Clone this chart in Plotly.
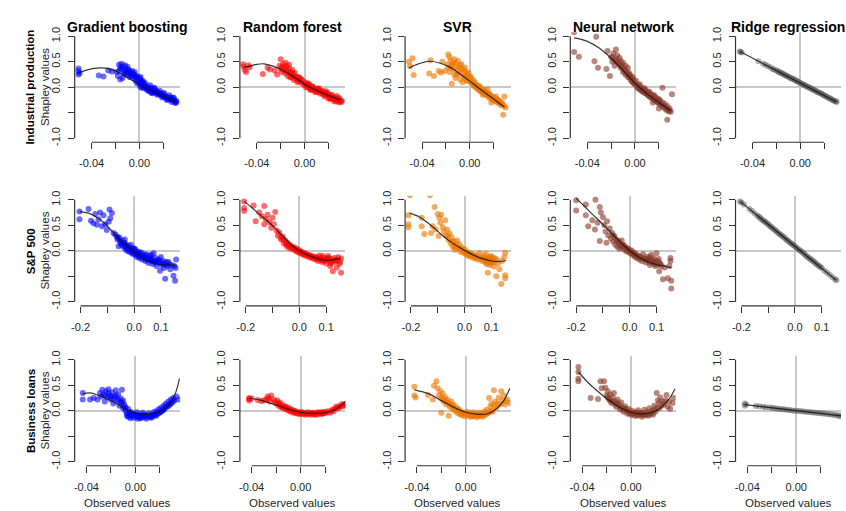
import plotly.graph_objects as go

W, H = 846, 511

models = ["Gradient boosting", "Random forest", "SVR", "Neural network", "Ridge regression"]
features = ["Industrial production", "S&P 500", "Business loans"]
point_colors = ["rgba(0,0,255,0.58)", "rgba(255,0,0,0.58)", "rgba(236,118,0,0.62)",
                "rgba(135,55,40,0.6)", "rgba(80,80,80,0.45)"]

x_ranges = [(-0.0542, 0.0342), (-0.222, 0.172), (-0.0496, 0.0366)]
x_tickvals = [[-0.04, -0.02, 0.0, 0.02], [-0.2, -0.1, 0.0, 0.1], [-0.04, -0.02, 0.0, 0.02]]
x_ticktext = [["-0.04", "", "0.00", ""], ["-0.2", "", "0.0", "0.1"], ["-0.04", "", "0.00", ""]]
y_tickvals = [-1.0, -0.5, 0.0, 0.5, 1.0]
y_ticktext = ["-1.0", "", "0.0", "0.5", "1.0"]

# ---------------- Industrial production: (observed value, Shapley value) ----------------
gb_ip = [(-0.051, 0.37), (-0.051, 0.32), (-0.050, 0.28), (-0.051, 0.25), (-0.034, 0.23), (-0.030, 0.21),
         (-0.026, 0.33), (-0.023, 0.31), (-0.019, 0.30), (-0.018, 0.22), (-0.017, 0.44), (-0.016, 0.15),
         (-0.015, 0.46), (-0.015, 0.36), (-0.014, 0.18), (-0.013, 0.34), (-0.012, 0.43), (-0.012, 0.28),
         (-0.011, 0.30), (-0.010, 0.40), (-0.010, 0.24), (-0.009, 0.35), (-0.008, 0.20), (-0.008, 0.31),
         (-0.007, 0.28), (-0.006, 0.32), (-0.006, 0.22), (-0.005, 0.26), (-0.005, 0.18), (-0.004, 0.24),
         (-0.003, 0.20), (-0.003, 0.13), (-0.002, 0.17), (-0.001, 0.12), (0.000, 0.08), (0.001, 0.15),
         (0.001, 0.03), (0.002, 0.06), (0.003, 0.10), (0.004, 0.00), (0.004, 0.05), (0.005, 0.02),
         (0.006, -0.02), (0.007, 0.01), (0.008, -0.04), (0.008, -0.08), (0.009, -0.03), (0.010, -0.07),
         (0.011, -0.06), (0.012, -0.10), (0.012, -0.05), (0.013, -0.09), (0.014, -0.11), (0.015, -0.10),
         (0.016, -0.14), (0.017, -0.12), (0.018, -0.16), (0.019, -0.15), (0.020, -0.17), (0.021, -0.19),
         (0.022, -0.18), (0.023, -0.21), (0.024, -0.20), (0.025, -0.22), (0.026, -0.24), (0.027, -0.23),
         (0.028, -0.26), (0.029, -0.25), (0.030, -0.28), (0.031, -0.27), (0.002, 0.11), (0.006, -0.04),
         (0.010, -0.11), (0.014, -0.07), (0.018, -0.13), (0.022, -0.20), (0.026, -0.20), (0.003, 0.12),
         (0.009, -0.01), (0.016, -0.12), (0.024, -0.24), (-0.002, 0.22), (0.001, 0.20),
         (0.001, 0.00), (0.003, -0.02), (0.005, 0.08), (0.007, -0.06), (0.009, 0.04), (0.011, -0.12),
         (0.013, -0.02), (0.015, -0.15), (0.017, -0.07), (0.019, -0.20), (0.021, -0.13), (0.023, -0.25),
         (0.025, -0.16), (0.027, -0.29), (0.029, -0.21), (0.030, -0.31), (0.028, -0.20), (0.031, -0.30),
         (0.020, -0.11), (0.012, -0.01), (-0.016, 0.38), (-0.014, 0.41), (-0.013, 0.26), (-0.011, 0.36),
         (-0.009, 0.29), (-0.007, 0.24), (-0.004, 0.30), (-0.002, 0.08), (0.000, 0.18), (-0.017, 0.32)]
rf_ip = [(-0.0515, 0.45), (-0.051, 0.40), (-0.050, 0.34), (-0.049, 0.30), (-0.047, 0.43), (-0.046, 0.39),
         (-0.035, 0.26), (-0.031, 0.38), (-0.029, 0.35), (-0.025, 0.33), (-0.023, 0.25), (-0.020, 0.55),
         (-0.021, 0.42), (-0.020, 0.36), (-0.019, 0.30), (-0.018, 0.45), (-0.017, 0.38), (-0.016, 0.27),
         (-0.015, 0.41), (-0.015, 0.33), (-0.014, 0.22), (-0.013, 0.37), (-0.012, 0.30), (-0.012, 0.19),
         (-0.011, 0.26), (-0.010, 0.34), (-0.009, 0.22), (-0.009, 0.14), (-0.008, 0.28), (-0.007, 0.20),
         (-0.006, 0.16), (-0.006, 0.10), (-0.005, 0.12), (-0.004, 0.18), (-0.003, 0.09), (-0.002, 0.14),
         (-0.001, 0.06), (0.000, 0.10), (0.001, 0.04), (0.002, 0.07), (0.003, 0.01), (0.004, 0.05),
         (0.005, -0.01), (0.006, 0.02), (0.007, -0.04), (0.008, -0.02), (0.009, -0.06), (0.010, -0.04),
         (0.011, -0.08), (0.012, -0.06), (0.013, -0.10), (0.014, -0.08), (0.015, -0.12), (0.016, -0.10),
         (0.017, -0.14), (0.018, -0.12), (0.019, -0.16), (0.020, -0.14), (0.021, -0.18), (0.022, -0.16),
         (0.023, -0.19), (0.024, -0.21), (0.025, -0.20), (0.026, -0.23), (0.027, -0.22), (0.028, -0.25),
         (0.029, -0.24), (0.030, -0.27), (0.031, -0.26), (0.020, -0.22), (0.025, -0.28), (0.029, -0.30),
         (0.018, -0.08), (0.027, -0.17), (0.004, -0.03), (0.012, -0.02),
         (0.001, 0.00), (0.003, 0.08), (0.005, -0.05), (0.007, 0.01), (0.009, -0.10), (0.011, -0.03),
         (0.013, -0.13), (0.015, -0.07), (0.017, -0.18), (0.019, -0.11), (0.021, -0.22), (0.023, -0.15),
         (0.025, -0.25), (0.027, -0.28), (0.029, -0.21), (0.031, -0.29), (0.022, -0.23), (0.016, -0.15),
         (0.010, -0.09), (0.006, -0.06), (-0.019, 0.40), (-0.017, 0.33), (-0.014, 0.30), (-0.011, 0.20),
         (-0.008, 0.17), (-0.005, 0.20), (-0.003, 0.15), (-0.013, 0.44), (-0.016, 0.48), (-0.010, 0.28)]
svr_ip = [(-0.051, 0.50), (-0.050, 0.41), (-0.048, 0.57), (-0.047, 0.24), (-0.033, 0.53), (-0.034, 0.27),
          (-0.030, 0.22), (-0.026, 0.32), (-0.023, 0.50), (-0.021, 0.32), (-0.024, 0.29), (-0.018, 0.64),
          (-0.017, 0.59), (-0.019, 0.45), (-0.018, 0.38), (-0.017, 0.30), (-0.016, 0.52), (-0.015, 0.07),
          (-0.015, 0.44), (-0.014, 0.36), (-0.013, 0.55), (-0.013, 0.25), (-0.012, 0.47), (-0.012, 0.18),
          (-0.011, 0.40), (-0.010, 0.32), (-0.010, 0.52), (-0.009, 0.26), (-0.008, 0.43), (-0.008, 0.15),
          (-0.007, 0.36), (-0.006, 0.28), (-0.006, 0.10), (-0.005, 0.34), (-0.004, 0.22), (-0.003, 0.30),
          (-0.003, 0.14), (-0.002, 0.24), (-0.001, 0.18), (0.000, 0.12), (0.001, 0.20), (0.002, 0.08),
          (0.003, 0.14), (0.004, 0.02), (0.005, 0.06), (0.006, -0.02), (0.007, 0.03), (0.008, -0.06),
          (0.009, -0.01), (0.010, -0.10), (0.011, -0.05), (0.012, -0.13), (0.013, -0.09), (0.014, -0.16),
          (0.015, -0.12), (0.016, -0.20), (0.017, -0.15), (0.018, -0.23), (0.019, -0.18), (0.020, -0.26),
          (0.021, -0.22), (0.022, -0.28), (0.023, -0.24), (0.024, -0.31), (0.025, -0.27), (0.026, -0.35),
          (0.027, -0.30), (0.028, -0.54), (0.029, -0.18), (0.029, -0.37), (0.030, -0.40), (0.018, -0.30),
          (0.022, -0.18), (0.011, -0.15), (0.015, -0.04),
          (0.001, 0.10), (0.003, 0.04), (0.005, 0.00), (0.007, -0.04), (0.009, -0.08), (0.011, -0.09),
          (0.013, -0.14), (0.015, -0.16), (0.017, -0.19), (0.019, -0.22), (0.021, -0.25), (0.023, -0.29),
          (0.025, -0.31), (0.027, -0.34), (0.004, 0.10), (0.008, 0.02), (0.012, -0.06), (0.016, -0.13),
          (0.020, -0.20), (0.024, -0.26), (-0.016, 0.40), (-0.014, 0.48), (-0.011, 0.25), (-0.009, 0.38),
          (-0.007, 0.45), (-0.005, 0.20), (-0.004, 0.38), (-0.002, 0.12), (-0.001, 0.28), (0.000, 0.20)]
nn_ip = [(-0.051, 1.08), (-0.0325, 0.99), (-0.051, 0.69), (-0.047, 0.60), (-0.034, 0.51), (-0.031, 0.38),
         (-0.024, 0.36), (-0.021, 0.22), (-0.023, 0.71), (-0.016, 0.74), (-0.020, 0.60), (-0.019, 0.50),
         (-0.018, 0.66), (-0.017, 0.42), (-0.016, 0.55), (-0.015, 0.63), (-0.014, 0.47), (-0.013, 0.58),
         (-0.012, 0.38), (-0.012, 0.52), (-0.011, 0.44), (-0.010, 0.30), (-0.010, 0.48), (-0.009, 0.36),
         (-0.008, 0.42), (-0.008, 0.25), (-0.007, 0.32), (-0.006, 0.38), (-0.006, 0.20), (-0.005, 0.28),
         (-0.004, 0.16), (-0.004, 0.24), (-0.003, 0.12), (-0.002, 0.20), (-0.001, 0.08), (-0.001, 0.14),
         (0.000, 0.06), (0.001, 0.12), (0.002, -0.01), (0.003, 0.04), (0.004, -0.04), (0.005, 0.00),
         (0.006, -0.08), (0.007, -0.03), (0.008, -0.11), (0.009, -0.06), (0.010, -0.14), (0.011, -0.10),
         (0.012, -0.18), (0.013, -0.13), (0.014, -0.21), (0.015, -0.16), (0.016, -0.25), (0.017, -0.19),
         (0.018, -0.28), (0.019, -0.22), (0.020, -0.32), (0.021, -0.26), (0.022, -0.36), (0.023, -0.01),
         (0.023, -0.30), (0.024, -0.40), (0.025, -0.33), (0.026, -0.44), (0.027, -0.64), (0.027, -0.37),
         (0.028, -0.47), (0.029, -0.42), (0.030, -0.48), (0.031, -0.14), (0.015, -0.30), (0.020, -0.42),
         (0.001, 0.04), (0.003, -0.02), (0.005, -0.06), (0.007, -0.09), (0.009, -0.12), (0.011, -0.16),
         (0.013, -0.19), (0.015, -0.22), (0.017, -0.26), (0.019, -0.29), (0.021, -0.32), (0.023, -0.36),
         (0.025, -0.39), (0.027, -0.43), (0.029, -0.46), (0.004, 0.06), (0.008, -0.02), (0.012, -0.09),
         (0.016, -0.16), (0.020, -0.24), (-0.019, 0.58), (-0.017, 0.53), (-0.015, 0.50), (-0.013, 0.44),
         (-0.011, 0.40), (-0.009, 0.33), (-0.007, 0.27), (-0.005, 0.22), (-0.003, 0.18), (-0.002, 0.10)]
ridge_ip = [(-0.0505, 0.70), (-0.050, 0.69), (-0.049, 0.68), (-0.035, 0.51), (-0.031, 0.46), (-0.029, 0.44),
            (-0.027, 0.41), (-0.025, 0.39), (-0.023, 0.36), (-0.022, 0.35), (-0.020, 0.33), (-0.019, 0.32),
            (-0.018, 0.30), (-0.017, 0.29), (-0.016, 0.28), (-0.015, 0.27), (-0.014, 0.26), (-0.013, 0.24),
            (-0.012, 0.23), (-0.011, 0.22), (-0.010, 0.21), (-0.009, 0.19), (-0.008, 0.18), (-0.007, 0.17),
            (-0.006, 0.16), (-0.005, 0.15), (-0.004, 0.13), (-0.003, 0.12), (-0.002, 0.11), (-0.001, 0.10),
            (0.000, 0.085), (0.001, 0.07), (0.002, 0.06), (0.003, 0.05), (0.004, 0.04), (0.005, 0.02),
            (0.006, 0.01), (0.007, 0.00), (0.008, -0.01), (0.009, -0.02), (0.010, -0.04), (0.011, -0.05),
            (0.012, -0.06), (0.013, -0.07), (0.014, -0.09), (0.015, -0.10), (0.016, -0.11), (0.017, -0.12),
            (0.018, -0.13), (0.019, -0.15), (0.020, -0.16), (0.021, -0.17), (0.022, -0.18), (0.023, -0.20),
            (0.024, -0.21), (0.025, -0.22), (0.026, -0.23), (0.027, -0.25), (0.028, -0.26), (0.029, -0.27),
            (0.030, -0.28), (0.0305, -0.29)]

# ---------------- S&P 500 ----------------
gb_sp = [(-0.204, 0.77), (-0.204, 0.62), (-0.170, 0.82), (-0.161, 0.59), (-0.152, 0.54), (-0.127, 0.75),
         (-0.114, 0.70), (-0.092, 0.81), (-0.089, 0.64), (-0.083, 0.74), (-0.139, 0.51), (-0.120, 0.48),
         (-0.108, 0.52), (-0.102, 0.41), (-0.145, 0.72), (-0.133, 0.62), (-0.095, 0.57), (-0.077, 0.35),
         (-0.065, 0.28), (-0.052, 0.19), (-0.058, 0.09), (-0.040, 0.15), (-0.025, 0.06), (-0.070, 0.32),
         (-0.062, 0.22), (-0.055, 0.26), (-0.048, 0.12), (-0.045, 0.20), (-0.040, 0.08), (-0.036, 0.16),
         (-0.032, 0.03), (-0.030, 0.12), (-0.026, 0.00), (-0.022, 0.10), (-0.018, -0.02), (-0.015, 0.06),
         (-0.012, 0.12), (-0.010, -0.04), (-0.008, 0.03), (-0.005, -0.06), (-0.003, 0.05), (0.000, -0.02),
         (0.003, -0.08), (0.005, 0.02), (0.008, -0.05), (0.010, -0.12), (0.013, -0.03), (0.016, -0.09),
         (0.020, -0.14), (0.023, -0.06), (0.026, -0.11), (0.030, -0.17), (0.034, -0.09), (0.038, -0.14),
         (0.042, -0.20), (0.045, -0.12), (0.050, -0.17), (0.054, -0.24), (0.058, -0.10), (0.062, -0.19),
         (0.066, -0.15), (0.070, -0.26), (0.073, -0.05), (0.076, -0.21), (0.080, -0.14), (0.084, -0.30),
         (0.088, -0.18), (0.092, -0.24), (0.097, -0.39), (0.100, -0.12), (0.104, -0.28), (0.108, -0.20),
         (0.112, -0.34), (0.116, -0.55), (0.120, -0.22), (0.125, -0.30), (0.130, -0.26), (0.135, -0.36),
         (0.140, -0.28), (0.147, -0.49), (0.150, -0.30), (0.153, -0.59), (0.157, -0.17), (0.155, -0.34),
         (-0.035, 0.22), (-0.020, 0.04), (0.002, 0.04), (0.018, -0.02), (0.040, -0.07), (0.065, -0.08),
         (-0.060, 0.25), (-0.050, 0.16), (-0.042, 0.14), (-0.034, 0.10), (-0.028, 0.07), (-0.016, 0.02),
         (-0.006, 0.00), (0.004, -0.04), (0.012, -0.07), (0.022, -0.10), (0.032, -0.12), (0.044, -0.16),
         (0.056, -0.18), (0.068, -0.20), (0.078, -0.23), (0.086, -0.21), (0.094, -0.17), (0.102, -0.23),
         (0.110, -0.26), (0.118, -0.27), (0.128, -0.22), (0.060, -0.14), (0.048, -0.08), (-0.012, 0.04),
         (0.028, -0.04)]
rf_sp = [(-0.206, 0.97), (-0.206, 0.84), (-0.206, 0.78), (-0.171, 0.89), (-0.131, 0.88), (-0.163, 0.58),
         (-0.131, 0.52), (-0.119, 0.71), (-0.100, 0.65), (-0.090, 0.76), (-0.150, 0.75), (-0.140, 0.68),
         (-0.125, 0.62), (-0.112, 0.56), (-0.105, 0.45), (-0.095, 0.52), (-0.085, 0.40), (-0.080, 0.30),
         (-0.075, 0.36), (-0.068, 0.22), (-0.062, 0.28), (-0.058, 0.15), (-0.052, 0.20), (-0.048, 0.10),
         (-0.044, 0.16), (-0.040, 0.06), (-0.035, 0.12), (-0.030, 0.04), (-0.025, 0.08), (-0.020, 0.02),
         (-0.016, 0.06), (-0.012, -0.01), (-0.008, 0.03), (-0.004, -0.03), (0.000, 0.01), (0.004, -0.05),
         (0.008, -0.02), (0.012, -0.07), (0.016, -0.04), (0.020, -0.09), (0.025, -0.06), (0.030, -0.11),
         (0.035, -0.08), (0.040, -0.13), (0.045, -0.10), (0.050, -0.15), (0.055, -0.11), (0.060, -0.17),
         (0.065, -0.12), (0.070, -0.20), (0.075, -0.09), (0.080, -0.16), (0.085, -0.22), (0.090, -0.13),
         (0.095, -0.18), (0.100, -0.25), (0.105, -0.14), (0.110, -0.20), (0.115, -0.30), (0.120, -0.16),
         (0.125, -0.40), (0.130, -0.22), (0.135, -0.18), (0.140, -0.33), (0.145, -0.12), (0.150, -0.26),
         (0.156, -0.43), (0.156, -0.15), (0.068, -0.15), (0.088, -0.10), (0.100, -0.16), (0.078, -0.14),
         (-0.070, 0.26), (-0.060, 0.22), (-0.050, 0.14), (-0.042, 0.11), (-0.032, 0.08), (-0.022, 0.05),
         (-0.010, 0.02), (0.002, -0.02), (0.010, -0.04), (0.018, -0.06), (0.028, -0.08), (0.038, -0.10),
         (0.048, -0.12), (0.058, -0.13), (0.068, -0.16), (0.082, -0.18), (0.092, -0.20), (0.102, -0.17),
         (0.112, -0.15), (0.122, -0.21), (0.132, -0.14), (0.142, -0.20), (0.152, -0.22), (0.118, -0.25),
         (0.108, -0.10)]
svr_sp = [(-0.204, 1.09), (-0.129, 1.09), (-0.210, 0.70), (-0.210, 0.52), (-0.210, 0.46), (-0.160, 0.65),
          (-0.160, 0.48), (-0.150, 0.33), (-0.125, 0.35), (-0.112, 0.86), (-0.094, 0.65), (-0.100, 0.72),
          (-0.087, 0.71), (-0.119, 0.48), (-0.108, 0.42), (-0.097, 0.29), (-0.090, 0.55), (-0.082, 0.46),
          (-0.078, 0.38), (-0.072, 0.60), (-0.070, 0.30), (-0.065, 0.42), (-0.060, 0.22), (-0.056, 0.34),
          (-0.052, 0.15), (-0.048, 0.26), (-0.044, 0.08), (-0.040, 0.18), (-0.036, 0.02), (-0.032, 0.12),
          (-0.028, 0.20), (-0.024, 0.06), (-0.020, 0.13), (-0.016, -0.02), (-0.012, 0.07), (-0.008, 0.02),
          (-0.004, -0.04), (0.000, 0.03), (0.004, -0.06), (0.008, -0.02), (0.012, -0.09), (0.016, -0.04),
          (0.020, -0.11), (0.025, -0.06), (0.030, -0.13), (0.035, -0.08), (0.040, -0.15), (0.045, -0.10),
          (0.050, -0.17), (0.055, -0.05), (0.060, -0.13), (0.065, -0.20), (0.070, -0.09), (0.075, -0.16),
          (0.080, -0.24), (0.085, -0.12), (0.087, -0.43), (0.090, -0.19), (0.095, -0.28), (0.100, -0.10),
          (0.105, -0.22), (0.110, -0.31), (0.115, -0.15), (0.119, -0.50), (0.125, -0.25), (0.130, -0.36),
          (0.137, -0.65), (0.140, -0.20), (0.152, -0.48), (0.152, -0.54), (0.152, -0.04), (0.148, -0.12),
          (0.070, -0.14), (0.080, -0.06), (0.092, -0.14), (0.100, -0.20),
          (-0.062, 0.30), (-0.046, 0.18), (-0.038, 0.10), (-0.030, 0.06), (-0.018, 0.04), (-0.006, 0.01),
          (0.006, -0.03), (0.014, -0.06), (0.022, -0.08), (0.032, -0.10), (0.042, -0.12), (0.052, -0.13),
          (0.062, -0.16), (0.072, -0.18), (0.078, -0.20), (0.082, -0.16), (0.088, -0.22), (0.094, -0.17),
          (0.098, -0.24), (0.104, -0.18), (0.108, -0.14), (0.112, -0.22), (0.122, -0.18), (0.096, -0.12),
          (0.084, -0.26)]
nn_sp = [(-0.200, 0.99), (-0.200, 0.79), (-0.164, 0.91), (-0.164, 0.70), (-0.155, 0.48), (-0.128, 1.00),
         (-0.112, 0.86), (-0.108, 0.75), (-0.130, 0.42), (-0.112, 0.19), (-0.087, 0.16), (-0.140, 0.60),
         (-0.120, 0.55), (-0.100, 0.66), (-0.095, 0.50), (-0.090, 0.38), (-0.085, 0.58), (-0.080, 0.30),
         (-0.075, 0.44), (-0.070, 0.24), (-0.066, 0.35), (-0.062, 0.18), (-0.058, 0.28), (-0.054, 0.12),
         (-0.050, 0.22), (-0.046, 0.08), (-0.042, 0.16), (-0.038, 0.04), (-0.034, 0.12), (-0.030, 0.20),
         (-0.026, 0.06), (-0.022, 0.10), (-0.018, 0.01), (-0.014, 0.07), (-0.010, -0.02), (-0.006, 0.04),
         (-0.002, -0.01), (0.002, -0.05), (0.006, 0.01), (0.010, -0.08), (0.014, -0.03), (0.018, -0.11),
         (0.022, -0.06), (0.026, -0.14), (0.030, -0.09), (0.035, -0.17), (0.040, -0.11), (0.045, -0.20),
         (0.050, -0.07), (0.055, -0.15), (0.060, -0.23), (0.065, -0.12), (0.070, -0.19), (0.075, -0.28),
         (0.080, -0.08), (0.085, -0.22), (0.090, -0.15), (0.095, -0.30), (0.100, -0.05), (0.105, -0.20),
         (0.110, -0.40), (0.115, -0.26), (0.124, -0.56), (0.130, -0.33), (0.142, -0.54), (0.152, -0.14),
         (0.152, -0.20), (0.155, -0.59), (0.155, -0.74), (0.148, -0.30), (0.075, -0.12), (0.090, -0.22),
         (-0.060, 0.30), (-0.048, 0.20), (-0.040, 0.18), (-0.032, 0.09), (-0.024, 0.12), (-0.012, 0.04),
         (0.000, 0.00), (0.008, -0.04), (0.016, -0.07), (0.024, -0.09), (0.032, -0.12), (0.042, -0.14),
         (0.052, -0.16), (0.062, -0.18), (0.072, -0.22), (0.082, -0.24), (0.088, -0.18), (0.092, -0.26),
         (0.098, -0.22), (0.104, -0.28), (0.108, -0.16), (0.112, -0.24), (0.118, -0.30), (0.068, -0.16),
         (0.078, -0.18)]
ridge_sp = [(-0.205, 0.97), (-0.200, 0.95), (-0.190, 0.91), (-0.170, 0.82), (-0.160, 0.78), (-0.150, 0.73),
            (-0.140, 0.69), (-0.135, 0.67), (-0.130, 0.65), (-0.125, 0.62), (-0.120, 0.60), (-0.115, 0.58),
            (-0.110, 0.56), (-0.105, 0.54), (-0.100, 0.52), (-0.095, 0.49), (-0.090, 0.47), (-0.085, 0.45),
            (-0.080, 0.43), (-0.075, 0.41), (-0.070, 0.39), (-0.065, 0.36), (-0.060, 0.34), (-0.055, 0.32),
            (-0.050, 0.30), (-0.045, 0.28), (-0.040, 0.26), (-0.035, 0.23), (-0.030, 0.21), (-0.025, 0.19),
            (-0.020, 0.17), (-0.015, 0.15), (-0.010, 0.13), (-0.005, 0.11), (0.000, 0.09), (0.005, 0.06),
            (0.010, 0.04), (0.015, 0.02), (0.020, 0.00), (0.025, -0.02), (0.030, -0.04), (0.035, -0.06),
            (0.040, -0.09), (0.045, -0.11), (0.050, -0.13), (0.055, -0.15), (0.060, -0.17), (0.065, -0.19),
            (0.070, -0.21), (0.075, -0.23), (0.080, -0.26), (0.085, -0.28), (0.090, -0.30), (0.095, -0.32),
            (0.100, -0.34), (0.110, -0.39), (0.120, -0.43), (0.130, -0.47), (0.140, -0.52), (0.150, -0.56),
            (0.155, -0.58)]

# ---------------- Business loans ----------------
gb_bl = [(-0.043, 0.35), (-0.043, 0.22), (-0.037, 0.22), (-0.034, 0.25), (-0.031, 0.22), (-0.029, 0.35),
         (-0.027, 0.41), (-0.028, 0.28), (-0.026, 0.32), (-0.025, 0.18), (-0.024, 0.38), (-0.023, 0.26),
         (-0.022, 0.42), (-0.021, 0.30), (-0.020, 0.22), (-0.019, 0.36), (-0.018, 0.14), (-0.017, 0.28),
         (-0.016, 0.40), (-0.015, 0.20), (-0.014, 0.32), (-0.013, 0.10), (-0.012, 0.24), (-0.011, 0.41),
         (-0.011, 0.16), (-0.010, 0.05), (-0.009, 0.12), (-0.008, 0.00), (-0.007, -0.05), (-0.006, 0.04),
         (-0.005, -0.10), (-0.004, -0.02), (-0.003, -0.12), (-0.002, -0.06), (-0.001, -0.14), (0.000, -0.08),
         (0.001, -0.03), (0.002, -0.12), (0.003, -0.07), (0.004, -0.15), (0.005, -0.10), (0.006, -0.04),
         (0.007, -0.13), (0.008, -0.08), (0.009, -0.16), (0.010, -0.11), (0.011, -0.05), (0.012, -0.13),
         (0.013, -0.08), (0.014, -0.12), (0.015, -0.03), (0.016, -0.09), (0.017, -0.01), (0.018, -0.06),
         (0.019, 0.03), (0.020, -0.03), (0.021, 0.06), (0.022, 0.00), (0.023, 0.10), (0.024, 0.04),
         (0.025, 0.14), (0.026, 0.08), (0.027, 0.18), (0.028, 0.12), (0.029, 0.22), (0.030, 0.16),
         (0.031, 0.25), (0.032, 0.20), (0.0335, 0.28), (0.0357, 0.22), (-0.006, -0.12), (-0.004, -0.15),
         (0.002, -0.16), (0.006, -0.09),
         (-0.007, -0.10), (-0.005, -0.04), (-0.003, -0.07), (-0.001, -0.09), (0.001, -0.11), (0.003, -0.12),
         (0.005, -0.14), (0.007, -0.09), (0.009, -0.12), (0.011, -0.10), (0.013, -0.14), (0.015, -0.08),
         (0.017, -0.10), (0.019, -0.05), (0.021, -0.02), (0.023, 0.02), (0.025, 0.08), (0.027, 0.10),
         (0.029, 0.14), (0.031, 0.20), (-0.025, 0.30), (-0.022, 0.34), (-0.020, 0.28), (-0.018, 0.24),
         (-0.016, 0.30), (-0.014, 0.22), (-0.012, 0.16), (-0.010, 0.20), (-0.009, 0.08), (-0.008, 0.06)]
rf_bl = [(-0.042, 0.25), (-0.042, 0.20), (-0.042, 0.23), (-0.032, 0.19), (-0.028, 0.22), (-0.027, 0.28),
         (-0.024, 0.30), (-0.025, 0.18), (-0.022, 0.22), (-0.020, 0.14), (-0.019, 0.20), (-0.018, 0.10),
         (-0.017, 0.16), (-0.016, 0.07), (-0.015, 0.12), (-0.014, 0.05), (-0.013, 0.09), (-0.012, 0.03),
         (-0.011, 0.07), (-0.010, 0.00), (-0.009, 0.05), (-0.008, -0.02), (-0.007, 0.02), (-0.006, -0.04),
         (-0.005, 0.00), (-0.004, -0.05), (-0.003, -0.02), (-0.002, -0.06), (-0.001, -0.03), (0.000, -0.07),
         (0.001, -0.03), (0.002, -0.06), (0.003, -0.04), (0.004, -0.08), (0.005, -0.05), (0.006, -0.03),
         (0.007, -0.07), (0.008, -0.05), (0.009, -0.08), (0.010, -0.04), (0.011, -0.07), (0.012, -0.05),
         (0.013, -0.08), (0.014, -0.03), (0.015, -0.06), (0.016, -0.04), (0.017, -0.07), (0.018, -0.02),
         (0.019, -0.05), (0.020, -0.03), (0.022, -0.01), (0.024, -0.04), (0.026, 0.02), (0.028, 0.04),
         (0.029, 0.08), (0.030, 0.05), (0.032, 0.10), (0.034, 0.13), (0.036, 0.12), (0.037, 0.10),
         (-0.040, 0.24), (-0.035, 0.21), (-0.030, 0.20), (-0.026, 0.24), (-0.021, 0.17), (-0.018, 0.14),
         (-0.015, 0.08), (-0.012, 0.06), (-0.009, 0.02), (-0.006, 0.00), (-0.003, -0.04), (0.000, -0.04),
         (0.003, -0.06), (0.006, -0.06), (0.009, -0.05), (0.012, -0.07), (0.015, -0.04), (0.018, -0.05),
         (0.021, -0.04), (0.025, 0.00), (0.027, -0.01), (0.031, 0.06), (0.033, 0.08), (0.035, 0.10)]
svr_bl = [(-0.042, 0.47), (-0.042, 0.30), (-0.041, 0.26), (-0.031, 0.31), (-0.024, 0.58), (-0.027, 0.22),
          (-0.023, 0.44), (-0.021, 0.38), (-0.026, 0.49), (-0.020, -0.04), (-0.014, -0.10), (-0.022, 0.30),
          (-0.020, 0.25), (-0.019, 0.34), (-0.018, 0.18), (-0.017, 0.27), (-0.016, 0.12), (-0.015, 0.22),
          (-0.014, 0.15), (-0.013, 0.08), (-0.012, 0.18), (-0.011, 0.04), (-0.010, 0.12), (-0.009, 0.00),
          (-0.008, 0.07), (-0.007, -0.04), (-0.006, 0.03), (-0.005, -0.07), (-0.004, -0.01), (-0.003, -0.09),
          (-0.002, -0.04), (-0.001, -0.11), (0.000, -0.06), (0.001, -0.02), (0.002, -0.10), (0.003, -0.05),
          (0.004, -0.12), (0.005, -0.08), (0.006, -0.03), (0.007, -0.11), (0.008, -0.06), (0.009, -0.13),
          (0.010, -0.08), (0.011, -0.04), (0.012, -0.10), (0.013, -0.06), (0.014, -0.12), (0.015, -0.02),
          (0.016, -0.08), (0.017, 0.02), (0.018, -0.05), (0.019, 0.25), (0.020, 0.08), (0.021, 0.14),
          (0.022, -0.02), (0.023, 0.40), (0.024, 0.18), (0.025, 0.06), (0.027, 0.26), (0.028, 0.12),
          (0.029, 0.38), (0.030, 0.20), (0.032, 0.12), (0.034, 0.22), (0.036, 0.15),
          (-0.019, 0.22), (-0.017, 0.20), (-0.015, 0.16), (-0.013, 0.12), (-0.011, 0.10), (-0.009, 0.05),
          (-0.007, 0.02), (-0.005, -0.02), (-0.003, -0.04), (-0.001, -0.06), (0.001, -0.08), (0.003, -0.09),
          (0.005, -0.11), (0.007, -0.07), (0.009, -0.09), (0.011, -0.11), (0.013, -0.09), (0.015, -0.07),
          (0.017, -0.06), (0.019, -0.03), (0.021, 0.00), (0.023, 0.10), (0.026, 0.14), (0.031, 0.30),
          (0.033, 0.18)]
nn_bl = [(-0.043, 0.86), (-0.043, 0.76), (-0.043, 0.63), (-0.043, 0.58), (-0.025, 0.58), (-0.022, 0.58),
         (-0.033, 0.25), (-0.027, 0.23), (-0.024, 0.44), (-0.021, 0.45), (-0.020, 0.30), (-0.019, 0.38),
         (-0.018, 0.22), (-0.017, 0.32), (-0.016, 0.15), (-0.015, 0.26), (-0.014, 0.35), (-0.013, 0.18),
         (-0.012, 0.08), (-0.011, 0.22), (-0.010, 0.12), (-0.009, 0.03), (-0.008, 0.16), (-0.007, 0.06),
         (-0.006, -0.02), (-0.005, 0.09), (-0.004, 0.02), (-0.003, -0.06), (-0.002, 0.04), (-0.001, -0.03),
         (0.000, -0.08), (0.001, 0.00), (0.002, -0.05), (0.003, -0.10), (0.004, -0.03), (0.005, -0.07),
         (0.006, 0.01), (0.007, -0.09), (0.008, -0.04), (0.009, -0.12), (0.010, -0.06), (0.011, 0.02),
         (0.012, -0.08), (0.013, -0.03), (0.014, -0.10), (0.015, 0.05), (0.016, -0.05), (0.017, 0.00),
         (0.018, -0.08), (0.019, 0.10), (0.020, -0.02), (0.021, 0.35), (0.022, 0.20), (0.023, 0.05),
         (0.024, 0.26), (0.026, 0.18), (0.027, 0.12), (0.029, 0.31), (0.030, 0.08), (0.032, 0.04),
         (0.034, 0.15), (0.035, 0.25),
         (-0.019, 0.26), (-0.017, 0.20), (-0.015, 0.18), (-0.013, 0.12), (-0.011, 0.14), (-0.009, 0.08),
         (-0.007, 0.02), (-0.005, 0.04), (-0.003, -0.01), (-0.001, -0.05), (0.001, -0.06), (0.003, -0.04),
         (0.005, -0.10), (0.007, -0.05), (0.009, -0.07), (0.011, -0.09), (0.013, -0.06), (0.015, -0.08),
         (0.017, -0.05), (0.019, 0.02), (0.021, 0.06), (0.023, 0.15), (0.025, 0.10), (0.028, 0.20),
         (0.031, 0.18)]
ridge_bl = [(-0.042, 0.14), (-0.042, 0.10), (-0.041, 0.12), (-0.033, 0.095), (-0.030, 0.087), (-0.027, 0.08),
            (-0.025, 0.07), (-0.022, 0.065), (-0.020, 0.06), (-0.018, 0.05), (-0.016, 0.045), (-0.014, 0.04),
            (-0.012, 0.03), (-0.010, 0.03), (-0.008, 0.02), (-0.006, 0.015), (-0.004, 0.01), (-0.002, 0.00),
            (0.000, 0.00), (0.002, -0.005), (0.004, -0.01), (0.006, -0.015), (0.008, -0.02), (0.010, -0.025),
            (0.012, -0.03), (0.014, -0.035), (0.016, -0.04), (0.018, -0.045), (0.020, -0.05), (0.022, -0.055),
            (0.024, -0.06), (0.026, -0.07), (0.028, -0.07), (0.030, -0.08), (0.032, -0.085), (0.034, -0.09),
            (0.035, -0.11), (0.037, -0.10)]

# ---------------- smoothed fits: (observed value, fitted Shapley value) ----------------
fit_gb_ip = [(-0.051, 0.28), (-0.045, 0.33), (-0.038, 0.37), (-0.032, 0.38), (-0.025, 0.36), (-0.018, 0.30),
             (-0.010, 0.19), (0.000, 0.05), (0.010, -0.07), (0.020, -0.18), (0.031, -0.29)]
fit_rf_ip = [(-0.051, 0.39), (-0.045, 0.42), (-0.040, 0.45), (-0.034, 0.46), (-0.027, 0.42), (-0.018, 0.33),
             (-0.010, 0.22), (0.000, 0.06), (0.008, -0.04), (0.015, -0.11), (0.022, -0.18), (0.030, -0.25)]
fit_svr_ip = [(-0.051, 0.38), (-0.045, 0.44), (-0.040, 0.48), (-0.033, 0.51), (-0.026, 0.48), (-0.018, 0.41),
              (-0.010, 0.29), (0.000, 0.12), (0.010, -0.06), (0.020, -0.23), (0.029, -0.39)]
fit_nn_ip = [(-0.051, 0.97), (-0.045, 0.94), (-0.040, 0.90), (-0.030, 0.77), (-0.020, 0.57), (-0.010, 0.33),
             (0.000, 0.08), (0.010, -0.13), (0.020, -0.30), (0.030, -0.46)]
fit_ridge_ip = [(-0.0505, 0.70), (0.0305, -0.29)]
fit_gb_sp = [(-0.204, 0.77), (-0.170, 0.74), (-0.140, 0.66), (-0.110, 0.54), (-0.080, 0.37), (-0.050, 0.20),
             (-0.020, 0.07), (0.010, -0.06), (0.040, -0.16), (0.070, -0.23), (0.100, -0.27), (0.130, -0.28),
             (0.157, -0.28)]
fit_rf_sp = [(-0.206, 0.97), (-0.180, 0.86), (-0.150, 0.72), (-0.120, 0.59), (-0.090, 0.44), (-0.060, 0.28),
             (-0.030, 0.12), (0.000, 0.00), (0.030, -0.08), (0.060, -0.14), (0.090, -0.18), (0.120, -0.18),
             (0.155, -0.15)]
fit_svr_sp = [(-0.205, 0.74), (-0.170, 0.67), (-0.140, 0.56), (-0.110, 0.43), (-0.080, 0.29), (-0.050, 0.17),
              (-0.020, 0.07), (0.010, -0.02), (0.040, -0.10), (0.070, -0.16), (0.100, -0.20), (0.130, -0.21),
              (0.155, -0.19)]
fit_nn_sp = [(-0.200, 1.03), (-0.170, 0.88), (-0.140, 0.72), (-0.110, 0.57), (-0.080, 0.41), (-0.050, 0.25),
             (-0.020, 0.10), (0.010, -0.04), (0.040, -0.14), (0.070, -0.22), (0.100, -0.27), (0.130, -0.30),
             (0.155, -0.33)]
fit_ridge_sp = [(-0.205, 0.97), (0.155, -0.58)]
fit_gb_bl = [(-0.043, 0.33), (-0.037, 0.35), (-0.030, 0.30), (-0.020, 0.20), (-0.010, 0.06), (0.000, -0.04),
             (0.010, -0.07), (0.020, -0.02), (0.025, 0.05), (0.029, 0.17), (0.033, 0.36), (0.036, 0.63)]
fit_rf_bl = [(-0.042, 0.25), (-0.035, 0.22), (-0.030, 0.19), (-0.020, 0.11), (-0.010, 0.03), (0.000, -0.03),
             (0.010, -0.05), (0.020, -0.04), (0.028, 0.02), (0.033, 0.10), (0.037, 0.20)]
fit_svr_bl = [(-0.042, 0.41), (-0.035, 0.37), (-0.030, 0.33), (-0.020, 0.20), (-0.010, 0.07), (0.000, -0.03),
              (0.010, -0.07), (0.018, -0.06), (0.025, 0.04), (0.031, 0.20), (0.036, 0.44)]
fit_nn_bl = [(-0.043, 0.76), (-0.035, 0.55), (-0.030, 0.44), (-0.020, 0.24), (-0.010, 0.08), (0.000, -0.03),
             (0.010, -0.06), (0.020, -0.01), (0.027, 0.12), (0.032, 0.26), (0.036, 0.43)]
fit_ridge_bl = [(-0.042, 0.12), (0.037, -0.10)]

points = [[gb_ip, rf_ip, svr_ip, nn_ip, ridge_ip],
          [gb_sp, rf_sp, svr_sp, nn_sp, ridge_sp],
          [gb_bl, rf_bl, svr_bl, nn_bl, ridge_bl]]
fits = [[fit_gb_ip, fit_rf_ip, fit_svr_ip, fit_nn_ip, fit_ridge_ip],
        [fit_gb_sp, fit_rf_sp, fit_svr_sp, fit_nn_sp, fit_ridge_sp],
        [fit_gb_bl, fit_rf_bl, fit_svr_bl, fit_nn_bl, fit_ridge_bl]]

# ---------------- panel geometry (pixels) ----------------
COL_LEFT0, COL_STEP, PANEL_W = 71, 166, 106
ROW_TOPS = [27.7, 194.2, 357.0]
PANEL_H = 112
Y_RANGE = [-1.08, 1.08]

FONT = "Liberation Sans, Arial, Helvetica, sans-serif"
INK = "#262626"
AXIS_INK = "#333333"
REF_GRAY = "#c8c8c8"

fig = go.Figure()
layout = dict(width=W, height=H, margin=dict(l=0, r=0, t=0, b=0),
              paper_bgcolor="white", plot_bgcolor="white", showlegend=False)
shapes, annotations = [], []

for r in range(3):
    for c in range(5):
        n = r * 5 + c + 1
        sfx = "" if n == 1 else str(n)
        left = COL_LEFT0 + COL_STEP * c
        top = ROW_TOPS[r]
        xdom = [left / W, (left + PANEL_W) / W]
        ydom = [1 - (top + PANEL_H) / H, 1 - top / H]

        layout["xaxis" + sfx] = dict(
            domain=xdom, range=list(x_ranges[r]), anchor="y" + sfx,
            tickmode="array", tickvals=x_tickvals[r], ticktext=x_ticktext[r],
            ticks="outside", ticklen=6, tickwidth=1, tickcolor=AXIS_INK,
            ticklabelstandoff=5,
            showline=False, showgrid=False,
            zeroline=True, zerolinecolor=REF_GRAY, zerolinewidth=1.5,
            tickfont=dict(family=FONT, size=11, color=INK), fixedrange=True)
        layout["yaxis" + sfx] = dict(
            domain=ydom, range=Y_RANGE, anchor="x" + sfx,
            tickmode="array", tickvals=y_tickvals, ticktext=y_ticktext,
            ticks="outside", ticklen=6, tickwidth=1, tickcolor=AXIS_INK,
            tickangle=-90, ticklabelstandoff=3,
            showline=False, showgrid=False,
            zeroline=True, zerolinecolor=REF_GRAY, zerolinewidth=1.5,
            tickfont=dict(family=FONT, size=11, color=INK), fixedrange=True)

        # axis lines spanning only the tick range
        shapes.append(dict(type="line", xref=f"x{sfx} domain", yref=f"y{sfx}",
                           x0=0, x1=0, y0=min(y_tickvals), y1=max(y_tickvals),
                           line=dict(color=AXIS_INK, width=1.2)))
        shapes.append(dict(type="line", xref=f"x{sfx}", yref=f"y{sfx} domain",
                           x0=min(x_tickvals[r]), x1=max(x_tickvals[r]), y0=0, y1=0,
                           line=dict(color=AXIS_INK, width=1.2)))

        pts = points[r][c]
        fig.add_trace(go.Scatter(
            x=[p[0] for p in pts], y=[p[1] for p in pts], mode="markers",
            marker=dict(size=6, color=point_colors[c], line=dict(width=0)),
            xaxis="x" + sfx, yaxis="y" + sfx, hoverinfo="skip", cliponaxis=True))
        fit = fits[r][c]
        fig.add_trace(go.Scatter(
            x=[p[0] for p in fit], y=[p[1] for p in fit], mode="lines",
            line=dict(color="rgba(20,20,20,0.85)", width=1.2, shape="spline", smoothing=1.0),
            xaxis="x" + sfx, yaxis="y" + sfx, hoverinfo="skip"))

        if r == 0:
            annotations.append(dict(text="<b>" + models[c] + "</b>", xref="paper", yref="paper",
                                    x=(left + PANEL_W / 2) / W, y=1 - 22.7 / H,
                                    xanchor="center", yanchor="middle", showarrow=False,
                                    font=dict(family=FONT, size=14, color="black")))
        if r == 2:
            annotations.append(dict(text="Observed values", xref="paper", yref="paper",
                                    x=(left + PANEL_W / 2) / W, y=1 - 507 / H,
                                    xanchor="center", yanchor="middle", showarrow=False,
                                    borderpad=0,
                                    font=dict(family=FONT, size=11.5, color=INK)))
    yc = 1 - (ROW_TOPS[r] + PANEL_H / 2) / H
    annotations.append(dict(text="<b>" + features[r] + "</b>", xref="paper", yref="paper",
                            x=26.5 / W, y=yc, xanchor="center", yanchor="middle", textangle=-90,
                            showarrow=False, font=dict(family=FONT, size=11.5, color="black")))
    annotations.append(dict(text="Shapley values", xref="paper", yref="paper",
                            x=41 / W, y=yc, xanchor="center", yanchor="middle", textangle=-90,
                            showarrow=False, font=dict(family=FONT, size=11.5, color=INK)))

layout["shapes"] = shapes
layout["annotations"] = annotations
fig.update_layout(**layout)
fig.write_html("out.html")
